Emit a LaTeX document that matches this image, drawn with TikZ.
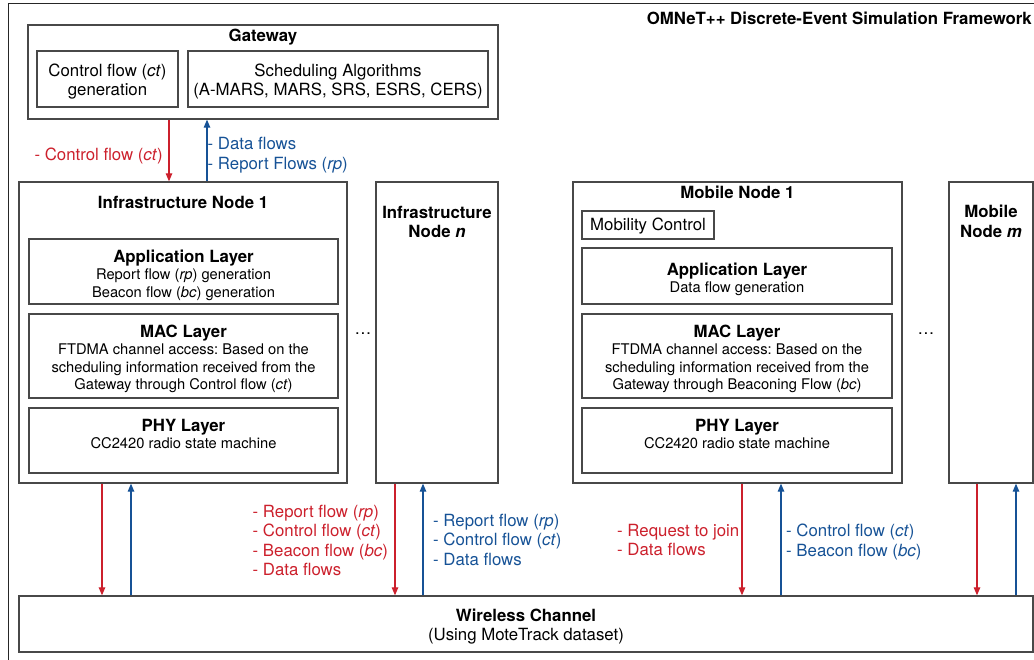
\documentclass[tikz,border=0pt]{standalone}
\usepackage{fontspec}
\setmainfont{TeX Gyre Heros}
\usetikzlibrary{arrows.meta,calc}
\definecolor{flowred}{RGB}{204,32,44}
\definecolor{flowblue}{RGB}{22,82,150}
\definecolor{edgegray}{RGB}{72,72,72}
\newcommand{\flabelfont}{\fontsize{16.8}{19.4}\selectfont}
\newcommand{\ftitlefont}{\fontsize{16.8}{17.5}\selectfont\bfseries}
\newcommand{\fbodyfont}{\fontsize{14.7}{17.2}\selectfont}
\frenchspacing
\begin{document}
\begin{tikzpicture}[x=1pt,y=-1pt,
  box/.style={draw=edgegray,line width=1.3pt,rectangle,inner sep=0pt},
  frame/.style={draw=black!85,line width=1pt,rectangle,inner sep=0pt},
  txt/.style={inner sep=0pt,align=center,font=\fbodyfont},
  ttl/.style={inner sep=0pt,align=center,font=\fontsize{16.8}{19.4}\selectfont\bfseries},
  plain/.style={inner sep=0pt,align=center,font=\fontsize{16.8}{19}\selectfont},
  lbl/.style={inner sep=0pt,align=left,font=\flabelfont},
  tipshape/.style={-{Triangle[length=8pt,width=6.5pt]}},
  redflow/.style={tipshape,draw=flowred,fill=flowred,line width=1.2pt},
  blueflow/.style={tipshape,draw=flowblue,fill=flowblue,line width=1.2pt}]
\useasboundingbox (0,0) rectangle (1034,660);
\clip (0,0) rectangle (1034,660);

% simulation framework frame and title
\node[frame,minimum width=1036.5pt,minimum height=666pt] (frame) at (526.75,337) {};
\node[ttl,anchor=north east] (fwtitle) at (1032,12) {OMNeT++ Discrete-Event Simulation Framework};

% gateway
\node[box,minimum width=470pt,minimum height=94pt] (gateway) at (263,72) {};
\node[ttl,anchor=north] (gwtitle) at (263,29) {Gateway};
\node[box,minimum width=141pt,minimum height=56pt] (gwctl) at (107.5,79) {};
\node[plain] (gwctlt) at (107.5,82) {Control flow (\textit{ct})\\generation};
\node[box,minimum width=300pt,minimum height=56pt] (gwsched) at (338,79) {};
\node[plain] (gwschedt) at (338,82) {Scheduling Algorithms\\(A-MARS, MARS, SRS, ESRS, CERS)};

% infrastructure node 1
\node[box,minimum width=328pt,minimum height=301pt] (infra1) at (183,332.5) {};
\node[ttl,anchor=north] (infra1t) at (183,196) {Infrastructure Node 1};
\node[box,minimum width=309pt,minimum height=65pt] (app1) at (183.5,271.5) {};
\node[txt,anchor=north] (app1t) at (183.5,250)
  {{\ftitlefont Application Layer}\\Report flow (\textit{rp}) generation\\Beacon flow (\textit{bc}) generation};
\node[box,minimum width=309pt,minimum height=84pt] (mac1) at (183.5,356) {};
\node[txt,anchor=north] (mac1t) at (183.5,325)
  {{\ftitlefont MAC Layer}\\FTDMA channel access: Based on the\\scheduling information received from the\\Gateway through Control flow (\textit{ct})};
\node[box,minimum width=309pt,minimum height=65pt] (phy1) at (183.5,440.5) {};
\node[txt,anchor=north] (phy1t) at (183.5,419)
  {{\ftitlefont PHY Layer}\\CC2420 radio state machine};

\node[inner sep=0pt,font=\flabelfont] (dots1) at (363,333.5) {\textellipsis};

% infrastructure node n
\node[box,minimum width=122pt,minimum height=301pt] (infran) at (437,332.5) {};
\node[ttl,anchor=north] (infrant) at (437,206) {Infrastructure\\Node \textit{n}};

% mobile node 1
\node[box,minimum width=329pt,minimum height=301pt] (mob1) at (737.5,332.5) {};
\node[ttl,anchor=north] (mob1t) at (737.5,186) {Mobile Node 1};
\node[box,minimum width=132pt,minimum height=28pt] (mobctl) at (648,225) {};
\node[plain] (mobctlt) at (648,226.5) {Mobility Control};
\node[box,minimum width=310pt,minimum height=56pt] (app2) at (737,276) {};
\node[txt,anchor=north] (app2t) at (737,263)
  {{\ftitlefont Application Layer}\\Data flow generation};
\node[box,minimum width=310pt,minimum height=84pt] (mac2) at (737,356) {};
\node[txt,anchor=north] (mac2t) at (737,325)
  {{\ftitlefont MAC Layer}\\FTDMA channel access: Based on the\\scheduling information received from the\\Gateway through Beaconing Flow (\textit{bc})};
\node[box,minimum width=310pt,minimum height=65pt] (phy2) at (737,440.5) {};
\node[txt,anchor=north] (phy2t) at (737,419)
  {{\ftitlefont PHY Layer}\\CC2420 radio state machine};

\node[inner sep=0pt,font=\flabelfont] (dots2) at (926,333.5) {\textellipsis};

% mobile node m
\node[box,minimum width=84pt,minimum height=301pt] (mobm) at (991,332.5) {};
\node[ttl,anchor=north] (mobmt) at (991,205) {Mobile\\Node \textit{m}};

% wireless channel
\node[box,minimum width=1014pt,minimum height=56pt] (wireless) at (526,624) {};
\node[plain] (wirelesst) at (526,627) {\textbf{Wireless Channel}\\(Using MoteTrack dataset)};

% connector columns
\coordinate (xgr) at (169,0);
\coordinate (xgb) at (207,0);
\coordinate (xar) at (102,0);
\coordinate (xab) at (131,0);
\coordinate (xbr) at (395,0);
\coordinate (xbb) at (423,0);
\coordinate (xcr) at (742,0);
\coordinate (xcb) at (781,0);
\coordinate (xdr) at (977,0);
\coordinate (xdb) at (1016,0);

% gateway <-> infrastructure node 1
\draw[redflow] (gateway.south -| xgr) -- (infra1.north -| xgr);
\draw[blueflow] (infra1.north -| xgb) -- (gateway.south -| xgb);
\node[lbl,anchor=north east,text=flowred] (lgr) at (163,148) {- Control flow (\textit{ct})};
\node[lbl,anchor=north west,text=flowblue,font=\fontsize{16.8}{20}\selectfont] (lgb) at (207.5,137)
  {- Data flows\\- Report Flows (\textit{rp})};

% nodes <-> wireless channel
\draw[redflow] (infra1.south -| xar) -- (wireless.north -| xar);
\draw[blueflow] (wireless.north -| xab) -- (infra1.south -| xab);
\draw[redflow] (infran.south -| xbr) -- (wireless.north -| xbr);
\draw[blueflow] (wireless.north -| xbb) -- (infran.south -| xbb);
\draw[redflow] (mob1.south -| xcr) -- (wireless.north -| xcr);
\draw[blueflow] (wireless.north -| xcb) -- (mob1.south -| xcb);
\draw[redflow] (mobm.south -| xdr) -- (wireless.north -| xdr);
\draw[blueflow] (wireless.north -| xdb) -- (mobm.south -| xdb);

\node[lbl,anchor=north west,text=flowred] (lir) at (252.5,505)
  {- Report flow (\textit{rp})\\- Control flow (\textit{ct})\\- Beacon flow (\textit{bc})\\- Data flows};
\node[lbl,anchor=north west,text=flowblue] (lib) at (433,514)
  {- Report flow (\textit{rp})\\- Control flow (\textit{ct})\\- Data flows};
\node[lbl,anchor=north west,text=flowred] (lmr) at (617,524)
  {- Request to join\\- Data flows};
\node[lbl,anchor=north west,text=flowblue] (lmb) at (786,524)
  {- Control flow (\textit{ct})\\- Beacon flow (\textit{bc})};
\end{tikzpicture}
\end{document}
